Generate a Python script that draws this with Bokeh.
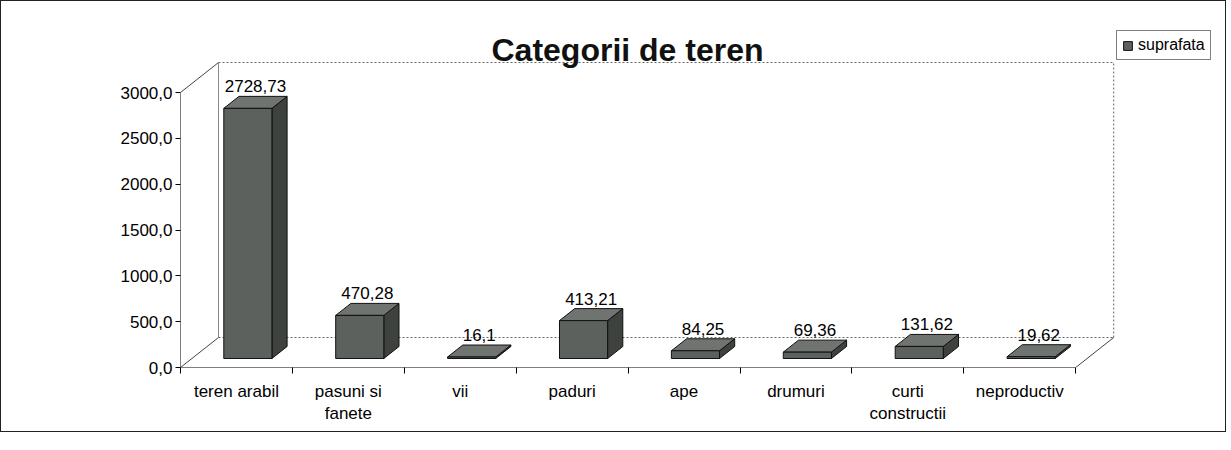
from bokeh.plotting import figure
from bokeh.models import Range1d, FixedTicker, Legend, LegendItem, Label, ColumnDataSource
from bokeh.embed import file_html
from bokeh.resources import INLINE
from bokeh.core.properties import value

# ---------------- data ----------------
categories = ["teren arabil", "pasuni si\nfanete", "vii", "paduri", "ape",
              "drumuri", "curti\nconstructii", "neproductiv"]
values = [2728.73, 470.28, 16.1, 413.21, 84.25, 69.36, 131.62, 19.62]
value_labels = ["2728,73", "470,28", "16,1", "413,21", "84,25", "69,36", "131,62", "19,62"]
y_ticks = [0, 500, 1000, 1500, 2000, 2500, 3000]
y_tick_labels = ["0,0", "500,0", "1000,0", "1500,0", "2000,0", "2500,0", "3000,0"]
series_name = "suprafata"
title_text = "Categorii de teren"

# ---------------- geometry ----------------
W, H = 1226, 432
MB_L, MB_R, MB_T, MB_B = 179, 4, 11, 66
frame_w = W - MB_L - MB_R
frame_h = H - MB_T - MB_B
PX_X = 111.9          # px per category
PX_Y = 275.0 / 3000   # px per unit
x0 = -0.5
x1 = x0 + frame_w / PX_X
y1 = frame_h / PX_Y
n = len(categories)
DX = 38 / PX_X        # depth offset (x units)
DY = 30 / PX_Y        # depth offset (y units)
F1, F2 = 0.3, 0.7     # bar front/back depth fractions
HW = 0.215            # bar half width
ymax = y_ticks[-1]

FONT = "Liberation Sans"

p = figure(width=W, height=H, x_range=Range1d(x0, x1), y_range=Range1d(0, y1),
           output_backend="svg", toolbar_location=None,
           min_border_left=MB_L, min_border_right=MB_R,
           min_border_top=MB_T, min_border_bottom=MB_B)
p.title.visible = False
p.outline_line_color = None
p.xgrid.visible = False
p.ygrid.visible = False
p.background_fill_color = "white"
p.border_fill_color = "white"
p.styles = {"border": "1px solid #222"}

# ---------------- walls / floor ----------------
wall_gray = "#8a8a8a"
xl, xr = x0, x0 + n
# front axis lines
p.segment(x0=[xl, xl], y0=[0, 0], x1=[xr, xl], y1=[0, ymax], line_color="black", line_width=1)
# floor / side diagonals
p.segment(x0=[xl, xr, xl], y0=[0, 0, ymax], x1=[xl + DX, xr + DX, xl + DX],
          y1=[DY, DY, ymax + DY], line_color="#444444", line_width=1)
# left wall back vertical
p.segment(x0=[xl + DX], y0=[DY], x1=[xl + DX], y1=[ymax + DY], line_color=wall_gray, line_width=1)
# back wall dotted edges
p.segment(x0=[xl + DX, xl + DX, xr + DX], y0=[DY, ymax + DY, DY],
          x1=[xr + DX, xr + DX, xr + DX], y1=[DY, ymax + DY, ymax + DY],
          line_color="#666666", line_width=1, line_dash="2 2")

# ---------------- 3D bars ----------------
d = F2 - F1
lefts = [i - HW + F1 * DX for i in range(n)]
rights = [i + HW + F1 * DX for i in range(n)]
bottoms = [F1 * DY] * n
tops = [v + F1 * DY for v in values]

side_xs, side_ys, top_xs, top_ys = [], [], [], []
for l, r, b, t in zip(lefts, rights, bottoms, tops):
    side_xs.append([r, r + d * DX, r + d * DX, r])
    side_ys.append([b, b + d * DY, t + d * DY, t])
    top_xs.append([l, r, r + d * DX, l + d * DX])
    top_ys.append([t, t, t + d * DY, t + d * DY])

p.patches(side_xs, side_ys, fill_color="#3d423f", line_color="#111111", line_width=1)
p.patches(top_xs, top_ys, fill_color="#6f7470", line_color="#111111", line_width=1)
front = p.quad(left=lefts, right=rights, bottom=bottoms, top=tops,
               fill_color="#5c615e", line_color="#111111", line_width=1)

# value labels
src = ColumnDataSource(dict(
    x=[i + F1 * DX + 0.5 * d * DX for i in range(n)],
    y=[v + F2 * DY for v in values],
    t=value_labels))
p.text(x="x", y="y", text="t", source=src, text_align="center", text_baseline="bottom",
       y_offset=-4, text_font=value(FONT), text_font_size="17px", text_color="black")

# ---------------- axes ----------------
xa = p.xaxis[0]
xa.ticker = FixedTicker(ticks=list(range(n)), minor_ticks=[x0 + k for k in range(n + 1)])
xa.major_label_overrides = {i: c for i, c in enumerate(categories)}
xa.axis_line_color = None
xa.major_tick_line_color = None
xa.minor_tick_line_color = "black"
xa.minor_tick_in = 0
xa.minor_tick_out = 6
xa.major_label_standoff = 8
xa.major_label_text_font = FONT
xa.major_label_text_font_size = "17px"
xa.major_label_text_color = "black"

ya = p.yaxis[0]
ya.ticker = FixedTicker(ticks=y_ticks)
ya.major_label_overrides = {t: l for t, l in zip(y_ticks, y_tick_labels)}
ya.axis_line_color = None
ya.major_tick_line_color = "black"
ya.major_tick_in = 0
ya.major_tick_out = 5
ya.minor_tick_line_color = None
ya.major_label_standoff = 3
ya.major_label_text_font = FONT
ya.major_label_text_font_size = "17px"
ya.major_label_text_color = "black"

# ---------------- title ----------------
title_cx = x0 + (627 - 180) / PX_X
title_cy = (367 - 49) / PX_Y
p.add_layout(Label(x=title_cx, y=title_cy, text=title_text, text_align="center",
                   text_baseline="middle", text_font=FONT, text_font_size="32px",
                   text_font_style="bold", text_color="#111111"))

# ---------------- legend ----------------
legend = Legend(items=[LegendItem(label=series_name, renderers=[front])],
                location=(1116 - 180, 367 - 60), orientation="vertical",
                label_text_font=FONT, label_text_font_size="16px", label_text_color="black",
                glyph_width=11, glyph_height=11, padding=5, spacing=0, margin=0,
                label_standoff=5, border_line_color="black", border_line_width=1,
                background_fill_color="white", background_fill_alpha=1.0)
p.add_layout(legend, "center")

open("out.html", "w").write(file_html(p, INLINE))
